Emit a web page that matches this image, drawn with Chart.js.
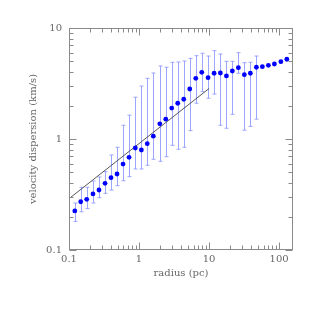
<!DOCTYPE html>
<html lang="en">

<head>
  <meta charset="UTF-8">
  <title>Velocity dispersion vs radius</title>
  <style>
    body { margin: 0; background: #fff; }
    #wrap { width: 319px; height: 319px; }
  </style>
</head>

<body>
  <div id="wrap">
    <canvas id="dispersion" width="319" height="319"></canvas>
  </div>

  <script src="https://cdn.jsdelivr.net/npm/chart.js"></script>
  <script>
    // measured points
    const radius = [0.121, 0.147, 0.179, 0.220, 0.268, 0.327, 0.398, 0.485, 0.591, 0.720, 0.885, 1.08,
      1.31, 1.60, 1.98, 2.41, 2.93, 3.57, 4.35, 5.30, 6.46, 7.87, 9.68, 11.8,
      14.5, 17.7, 21.5, 26.2, 31.9, 38.9, 47.4, 57.7, 70.3, 85.7, 106, 129];
    const sigma = [0.225, 0.272, 0.286, 0.320, 0.347, 0.399, 0.448, 0.484, 0.595, 0.684, 0.830, 0.796,
      0.907, 1.06, 1.37, 1.51, 1.90, 2.10, 2.28, 2.82, 3.52, 3.99, 3.57, 3.91,
      3.93, 3.70, 4.10, 4.39, 3.80, 3.91, 4.43, 4.48, 4.61, 4.74, 4.97, 5.23];
    // error bar ends (null = no bar)
    const sigmaLo = [0.181, 0.221, 0.236, 0.265, 0.296, 0.324, 0.347, 0.380, 0.421, 0.458, 0.537, 0.537,
      0.580, 0.657, 0.630, 0.693, 0.877, 0.808, 0.842, 1.19, 2.10, 2.67, 2.33, 2.54,
      1.33, 1.25, 1.67, 3.91, 1.20, 1.30, 1.51, null, null, null, null, null];
    const sigmaHi = [0.265, 0.367, 0.367, 0.418, 0.455, 0.508, 0.718, 0.842, 1.33, 1.64, 2.38, 3.00,
      3.52, 3.93, 4.55, 4.43, 4.91, 4.94, 5.04, 5.33, 5.63, 5.92, 5.59, 6.25,
      5.83, 5.01, 5.01, 5.99, 4.87, 4.91, 5.59, null, null, null, null, null];

    // reference power law (two end points)
    const fitR = [0.1, 10];
    const fitSigma = [0.29, 2.85];

    const xTickLabels = [0.1, 1, 10, 100];
    const yTickLabels = [0.1, 1, 10];

    const textColor = '#666';
    const frameColor = '#8a8a8a';
    const labelFont = { family: 'DejaVu Serif', size: 10 };

    function isLabel(v, list) {
      return list.some(t => Math.abs(v / t - 1) < 1e-6);
    }

    // frame, inward ticks on all sides, error bars
    const frameTicks = {
      id: 'frameTicks',
      beforeDatasetsDraw(chart) {
        const { ctx, scales: { x, y } } = chart;
        ctx.save();
        ctx.strokeStyle = 'rgba(140,150,255,0.85)';
        ctx.lineWidth = 1;
        radius.forEach((r, i) => {
          if (sigmaLo[i] == null) return;
          const px = Math.round(x.getPixelForValue(r)) + 0.5;
          const y1 = y.getPixelForValue(sigmaLo[i]);
          const y2 = y.getPixelForValue(sigmaHi[i]);
          ctx.beginPath();
          ctx.moveTo(px, y1);
          ctx.lineTo(px, y2);
          ctx.moveTo(px - 2, y1);
          ctx.lineTo(px + 2, y1);
          ctx.moveTo(px - 2, y2);
          ctx.lineTo(px + 2, y2);
          ctx.stroke();
        });
        ctx.restore();
      },
      afterDatasetsDraw(chart) {
        const { ctx, chartArea: a, scales: { x, y } } = chart;
        ctx.save();
        ctx.strokeStyle = frameColor;
        ctx.lineWidth = 1;
        const L = Math.round(a.left) + 0.5, R = Math.round(a.right) - 0.5;
        const T = Math.round(a.top) + 0.5, B = Math.round(a.bottom) - 0.5;
        ctx.strokeRect(L, T, R - L, B - T);
        ctx.beginPath();
        for (let d = -1; d <= 2; d++) {
          for (let m = 1; m <= 9; m++) {
            const v = m * Math.pow(10, d);
            const len = m === 1 ? 7 : 4;
            if (v >= x.min && v <= x.max) {
              const px = Math.round(x.getPixelForValue(v)) + 0.5;
              ctx.moveTo(px, B); ctx.lineTo(px, B - len);
              ctx.moveTo(px, T); ctx.lineTo(px, T + len);
            }
            if (v >= y.min && v <= y.max) {
              const py = Math.round(y.getPixelForValue(v)) + 0.5;
              ctx.moveTo(L, py); ctx.lineTo(L + len, py);
              ctx.moveTo(R, py); ctx.lineTo(R - len, py);
            }
          }
        }
        ctx.stroke();
        ctx.restore();
      }
    };

    new Chart(document.getElementById('dispersion'), {
      type: 'scatter',
      data: {
        datasets: [{
          data: radius.map((r, i) => ({ x: r, y: sigma[i] })),
          backgroundColor: '#0000ff',
          borderColor: '#0000ff',
          pointRadius: 2.4,
          borderWidth: 0
        }, {
          type: 'line',
          data: fitR.map((r, i) => ({ x: r, y: fitSigma[i] })),
          borderColor: '#444',
          borderWidth: 0.9,
          pointRadius: 0,
          fill: false
        }]
      },
      options: {
        responsive: false,
        animation: false,
        devicePixelRatio: 1,
        layout: { padding: { left: 27, right: 26, top: 28, bottom: 36 } },
        plugins: { legend: { display: false }, tooltip: { enabled: false } },
        scales: {
          x: {
            type: 'logarithmic',
            min: 0.1,
            max: 158,
            afterFit: s => { s.height = 33; },
            grid: { display: false, drawTicks: false },
            border: { display: false },
            ticks: {
              autoSkip: false,
              maxRotation: 0,
              padding: 3,
              color: textColor,
              font: labelFont,
              callback: v => isLabel(v, xTickLabels) ? String(+v.toPrecision(3)) : ''
            },
            title: {
              display: true,
              text: 'radius (pc)',
              color: textColor,
              font: labelFont,
              padding: { top: 0, bottom: 4 }
            }
          },
          y: {
            type: 'logarithmic',
            min: 0.1,
            max: 10,
            afterFit: s => { s.width = 42; },
            grid: { display: false, drawTicks: false },
            border: { display: false },
            ticks: {
              autoSkip: false,
              padding: 7,
              color: textColor,
              font: labelFont,
              callback: v => isLabel(v, yTickLabels) ? String(+v.toPrecision(3)) : ''
            },
            title: {
              display: true,
              text: 'velocity dispersion (km/s)',
              color: textColor,
              font: labelFont,
              padding: { top: 0, bottom: 0 }
            }
          }
        }
      },
      plugins: [frameTicks]
    });
  </script>
</body>

</html>
